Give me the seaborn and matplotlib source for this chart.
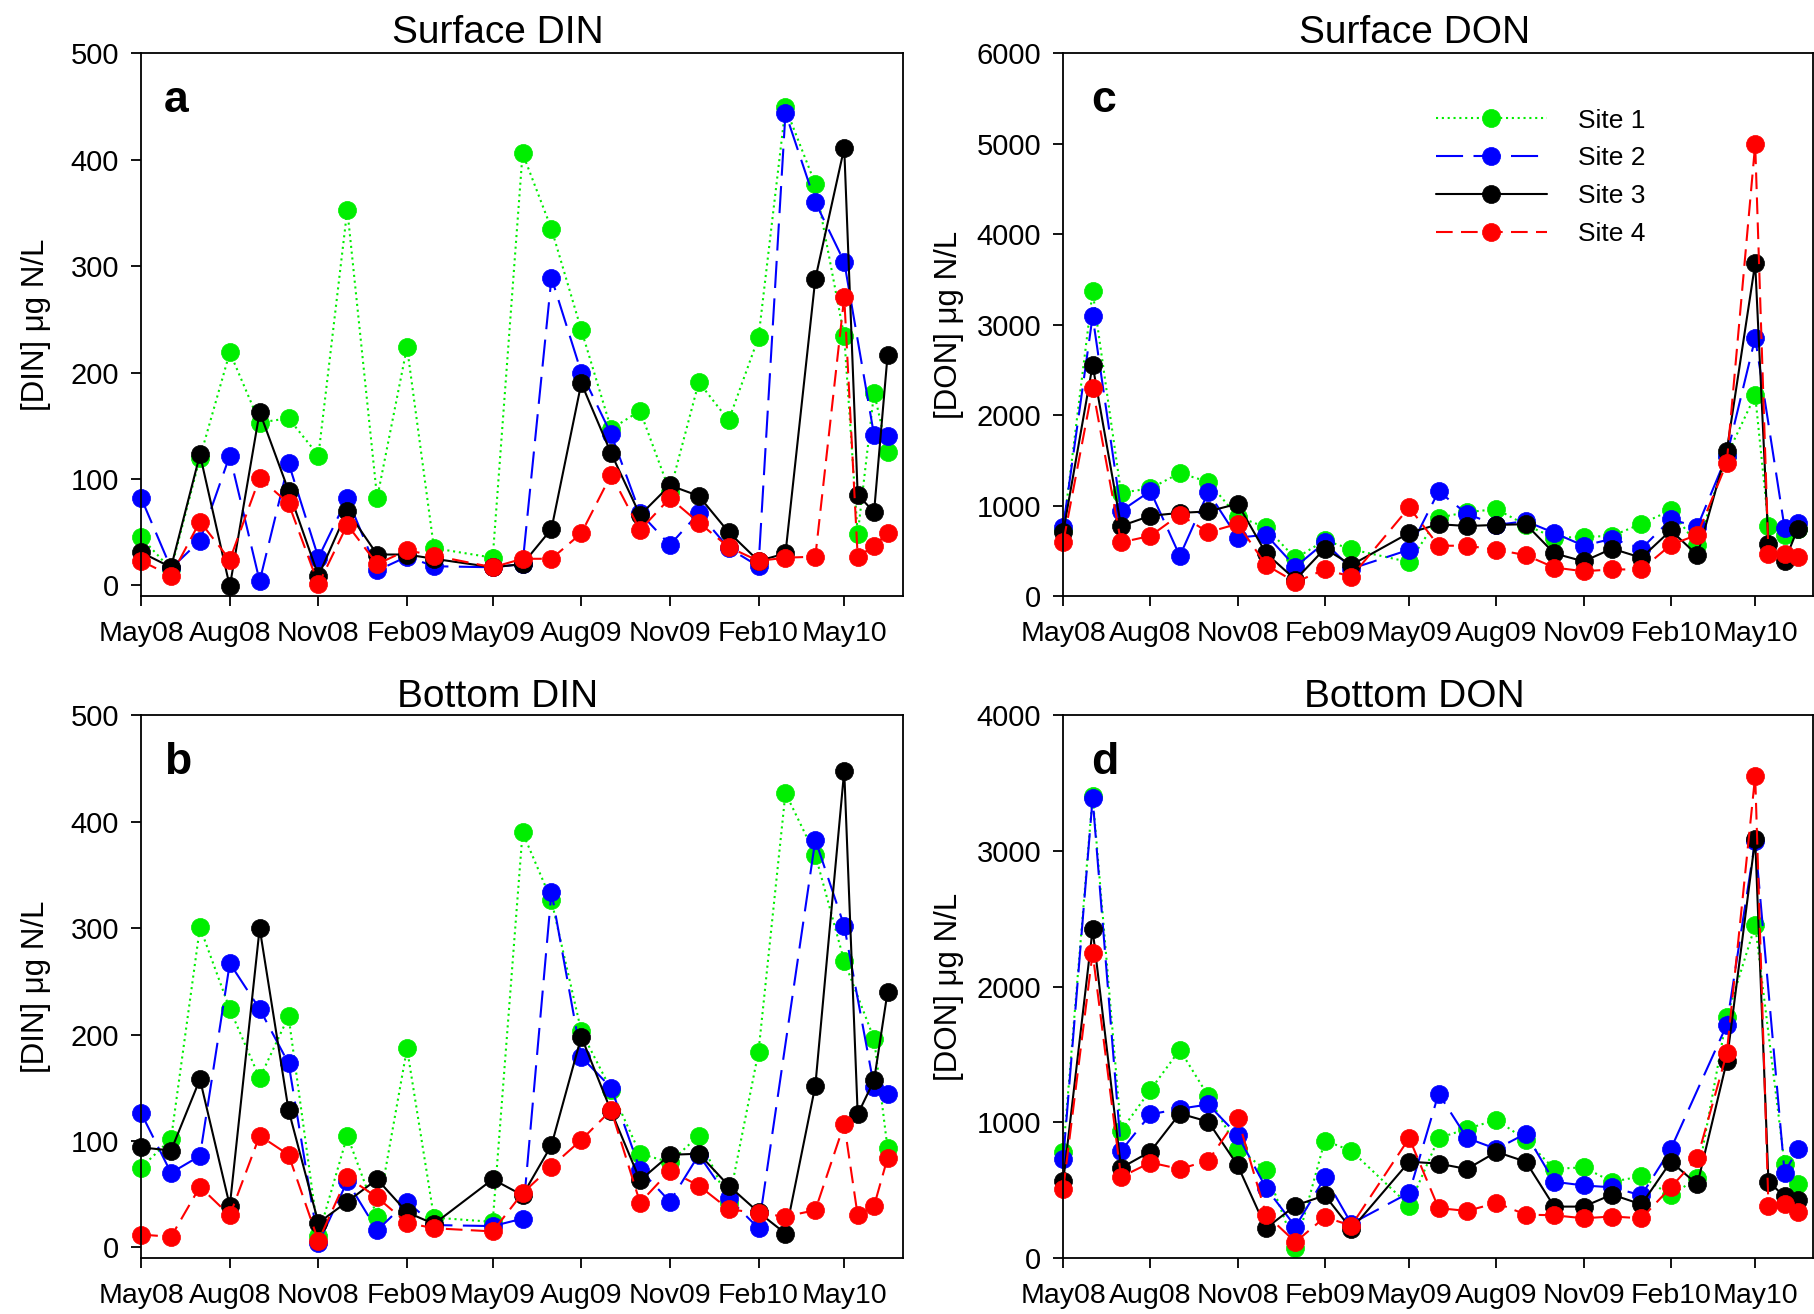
import numpy as np
import pandas as pd
import matplotlib
matplotlib.use("Agg")
import matplotlib.pyplot as plt
import seaborn as sns

nan = np.nan

# ---------------- data ----------------
dates = ["2008-05-01", "2008-06-01", "2008-07-01", "2008-08-01", "2008-09-01",
         "2008-10-01", "2008-11-01", "2008-12-01", "2009-01-01", "2009-02-01",
         "2009-03-01", "2009-05-01", "2009-06-01", "2009-07-01", "2009-08-01",
         "2009-09-01", "2009-10-01", "2009-11-01", "2009-12-01", "2010-01-01",
         "2010-02-01", "2010-03-01", "2010-04-01", "2010-05-01", "2010-05-15",
         "2010-06-01", "2010-06-15"]

sites = ["Site 1", "Site 2", "Site 3", "Site 4"]

# Surface DIN (panel a)
surf_din_s1 = [45, 15, 120, 219, 153, 157, 122, 353, 82, 224, 35, 26, 406, 335, 240, 147, 164, 88, 191, 155, 233, 449, 377, 234, 48, 181, 125]
surf_din_s2 = [82, 16, 42, 122, 4, 115, 26, 82, 14, 27, 18, 17, 20, 289, 200, 142, 68, 38, 68, 35, 18, 444, 360, 304, nan, 141, 140]
surf_din_s3 = [31, 17, 123, -1, 163, 89, 9, 70, 29, 29, 25, 17, 20, 53, 190, 124, 66, 94, 84, 50, 23, 30, 288, 411, 85, 69, 216]
surf_din_s4 = [23, 9, 60, 24, 101, 77, 1, 57, 20, 33, 28, 17, 25, 25, 49, 104, 52, 82, 59, 36, 23, 26, 27, 271, 27, 37, 49]

# Bottom DIN (panel b)
bot_din_s1 = [75, 102, 301, 224, 159, 217, 11, 105, 29, 187, 28, 24, 390, 326, 203, 148, 88, 80, 105, 42, 184, 427, 369, 269, nan, 196, 93]
bot_din_s2 = [126, 70, 86, 267, 224, 173, 4, 62, 16, 43, 21, 20, 27, 334, 179, 150, 73, 43, 87, 46, 18, nan, 383, 302, nan, 151, 144]
bot_din_s3 = [94, 91, 158, 39, 300, 129, 23, 43, 64, 33, 22, 64, 49, 96, 198, 128, 63, 87, 88, 58, 33, 13, 152, 448, 125, 157, 240]
bot_din_s4 = [12, 10, 57, 30, 105, 87, 6, 66, 47, 23, 18, 15, 51, 76, 101, 129, 42, 72, 58, 36, 32, 29, 35, 116, 30, 39, 84]

# Surface DON (panel c)
surf_don_s1 = [726, 3367, 1141, 1190, 1359, 1262, 879, 758, 415, 617, 516, 375, 867, 927, 960, 786, 645, 653, 665, 798, 948, 565, 1550, 2218, 778, 677, 740]
surf_don_s2 = [766, 3093, 940, 1161, 443, 1149, 645, 677, 323, 593, 302, 512, 1157, 907, 786, 827, 698, 556, 633, 524, 847, 766, 1550, 2851, nan, 754, 806]
surf_don_s3 = [706, 2552, 774, 887, 919, 935, 1020, 472, 181, 524, 343, 698, 794, 774, 786, 794, 472, 383, 524, 423, 726, 452, 1605, 3677, 573, 383, 746]
surf_don_s4 = [593, 2298, 593, 665, 899, 705, 798, 343, 153, 294, 214, 980, 556, 556, 512, 452, 315, 274, 294, 294, 565, 677, 1472, 4992, 464, 464, 431]

# Bottom DON (panel d)
bot_don_s1 = [785, 3406, 938, 1239, 1535, 1194, 804, 651, 73, 866, 790, 387, 884, 952, 1019, 871, 656, 669, 562, 602, 462, 589, 1777, 2452, nan, 691, 543]
bot_don_s2 = [728, 3390, 790, 1059, 1100, 1132, 906, 516, 231, 594, 253, 481, 1212, 884, 804, 917, 562, 535, 521, 462, 804, nan, 1718, 3075, nan, 629, 804]
bot_don_s3 = [567, 2422, 664, 785, 1065, 1005, 683, 220, 387, 462, 212, 710, 696, 656, 782, 710, 379, 379, 468, 395, 710, 543, 1449, 3089, 562, 454, 427]
bot_don_s4 = [508, 2250, 597, 704, 656, 718, 1032, 320, 118, 301, 239, 884, 368, 347, 406, 320, 315, 293, 306, 293, 521, 737, 1508, 3554, 382, 395, 341]

tick_dates = ["2008-05-01", "2008-08-01", "2008-11-01", "2009-02-01", "2009-05-01",
              "2009-08-01", "2009-11-01", "2010-02-01", "2010-05-01"]
tick_labels = ["May08", "Aug08", "Nov08", "Feb09", "May09", "Aug09", "Nov09", "Feb10", "May10"]

panels = [
    dict(letter="a", title="Surface DIN", ylabel="[DIN] μg N/L",
         series=[surf_din_s1, surf_din_s2, surf_din_s3, surf_din_s4],
         ylim=(-10, 500), yticks=[0, 100, 200, 300, 400, 500]),
    dict(letter="b", title="Bottom DIN", ylabel="[DIN] μg N/L",
         series=[bot_din_s1, bot_din_s2, bot_din_s3, bot_din_s4],
         ylim=(-10, 500), yticks=[0, 100, 200, 300, 400, 500]),
    dict(letter="c", title="Surface DON", ylabel="[DON] μg N/L",
         series=[surf_don_s1, surf_don_s2, surf_don_s3, surf_don_s4],
         ylim=(0, 6000), yticks=[0, 1000, 2000, 3000, 4000, 5000, 6000]),
    dict(letter="d", title="Bottom DON", ylabel="[DON] μg N/L",
         series=[bot_don_s1, bot_don_s2, bot_don_s3, bot_don_s4],
         ylim=(0, 4000), yticks=[0, 1000, 2000, 3000, 4000]),
]

# ---------------- styles ----------------
colors = ["#00ee00", "#0000ff", "#000000", "#ff0000"]
linestyles = [(0, (1, 1.8)), (0, (13, 5)), "-", (0, (8, 4))]

sns.set_theme(style="ticks")
plt.rcParams["font.family"] = ["Liberation Sans", "DejaVu Sans"]
plt.rcParams["axes.linewidth"] = 1.3
plt.rcParams["axes.edgecolor"] = "black"
plt.rcParams["text.color"] = "black"
plt.rcParams["axes.labelcolor"] = "black"
plt.rcParams["axes.titlecolor"] = "black"
plt.rcParams["xtick.color"] = "black"
plt.rcParams["ytick.color"] = "black"

fig = plt.figure(figsize=(18.15, 13.14), dpi=100)
positions = {
    "a": [0.0778, 0.5464, 0.4197, 0.4131],
    "b": [0.0778, 0.0426, 0.4197, 0.4130],
    "c": [0.5858, 0.5464, 0.4131, 0.4131],
    "d": [0.5858, 0.0426, 0.4131, 0.4130],
}

x_dates = pd.to_datetime(dates)
for p in panels:
    ax = fig.add_axes(positions[p["letter"]])
    for site, vals, col, ls in zip(sites, p["series"], colors, linestyles):
        df = pd.DataFrame({"date": x_dates, "value": vals}).dropna()
        sns.lineplot(data=df, x="date", y="value", ax=ax, color=col,
                     linestyle=ls, linewidth=1.5, marker="o", markersize=13,
                     markeredgecolor=col, markeredgewidth=0.5,
                     estimator=None, errorbar=None, label=site, clip_on=False)
    ax.set_xlim(pd.Timestamp("2008-05-01"), pd.Timestamp("2010-07-01"))
    ax.set_ylim(*p["ylim"])
    ax.set_yticks(p["yticks"])
    ax.set_xticks(pd.to_datetime(tick_dates))
    ax.set_xticklabels(tick_labels)
    ax.tick_params(axis="both", direction="out", length=7, width=1.3,
                   labelsize=21, color="black", labelcolor="black")
    ax.tick_params(axis="x", pad=11, labelsize=20.5)
    ax.tick_params(axis="y", pad=9)
    for s in ax.spines.values():
        s.set_visible(True)
        s.set_linewidth(1.3)
        s.set_color("black")
    ax.set_xlabel("")
    ax.set_ylabel(p["ylabel"], fontsize=22.5, color="black")
    if p["letter"] in ("a", "b"):
        ax.yaxis.set_label_coords(-0.119, 0.5)
        lx = 0.030
    else:
        ax.yaxis.set_label_coords(-0.133, 0.5)
        lx = 0.037
    top = p["letter"] in ("a", "c")
    ax.set_title(p["title"], fontsize=28, x=0.468, pad=7 if top else 4, color="black")
    ax.text(lx, 0.891, p["letter"], transform=ax.transAxes, fontsize=32,
            fontweight="bold", va="baseline", ha="left", color="black")
    if p["letter"] == "c":
        ax.legend(loc="upper left", bbox_to_anchor=(0.497, 0.898), frameon=False,
                  fontsize=19, handlelength=4.2, handletextpad=1.2,
                  labelspacing=0.52, borderpad=0, borderaxespad=0,
                  labelcolor="black")
    else:
        lg = ax.get_legend()
        if lg is not None:
            lg.remove()

fig.savefig("out.png", dpi=100)
